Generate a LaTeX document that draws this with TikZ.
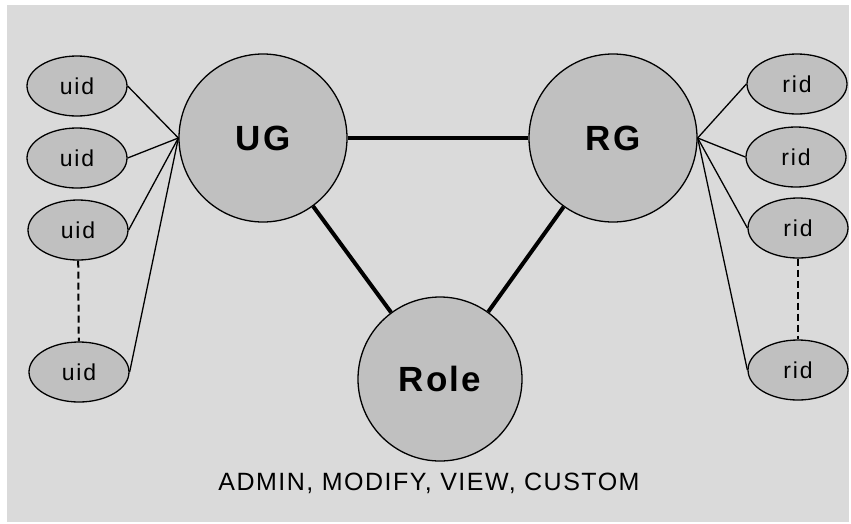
\documentclass[tikz,border=0pt]{standalone}
\usepackage{fontspec}
\setmainfont{Liberation Sans}
\newfontfamily\spacedfont[LetterSpace=6]{Liberation Sans}
\newfontfamily\widefont[LetterSpace=8]{Liberation Sans}
\usetikzlibrary{shapes.geometric}
\definecolor{bggray}{RGB}{218,218,218}
\definecolor{nodegray}{RGB}{192,192,192}

\begin{document}
\begin{tikzpicture}[x=1pt,y=-1pt,
bignode/.style={circle, draw=black, fill=nodegray, line width=1.3pt, minimum size=168pt, inner sep=0pt, font=\spacedfont\fontsize{35}{35}\selectfont\bfseries},
idnode/.style={ellipse, draw=black, fill=nodegray, line width=1.3pt, minimum width=100pt, minimum height=60pt, inner sep=0pt, font=\widefont\fontsize{23}{23}\selectfont},
thin/.style={line width=1.3pt},
heavy/.style={line width=4pt},
gap/.style={line width=2pt, dash pattern=on 7pt off 4pt}
]
    \useasboundingbox (0,0) rectangle (851,523);
    \fill[bggray] (7,5) rectangle (849,522);

    \node [bignode] (ug) at (263,138) {UG};
    \node [bignode] (rg) at (613,138) {RG};
    \node [bignode,minimum size=164pt] (role) at (440,379) {Role};
    \node [font=\spacedfont\fontsize{25}{25}\selectfont] (perm) at (429,483) {ADMIN, MODIFY, VIEW, CUSTOM};

    \node [idnode] (u1) at (77,86)  {uid};
    \node [idnode] (u2) at (77,158) {uid};
    \node [idnode] (u3) at (78,230) {uid};
    \node [idnode] (u4) at (79,372) {uid};

    \node [idnode] (r1) at (797,84)  {rid};
    \node [idnode] (r2) at (796,157) {rid};
    \node [idnode] (r3) at (798,228) {rid};
    \node [idnode] (r4) at (798,370) {rid};

    \draw [heavy] (ug) -- (rg);
    \draw [heavy] (ug) -- (role);
    \draw [heavy] (rg) -- (role);

    \draw [thin] (u1.east) -- (ug.west);
    \draw [thin] (u2.east) -- (ug.west);
    \draw [thin] (u3.east) -- (ug.west);
    \draw [thin] (u4.east) -- (ug.west);
    \draw [gap] (u3) -- (u4);

    \draw [thin] (r1.west) -- (rg.east);
    \draw [thin] (r2.west) -- (rg.east);
    \draw [thin] (r3.west) -- (rg.east);
    \draw [thin] (r4.west) -- (rg.east);
    \draw [gap] (r3) -- (r4);
\end{tikzpicture}
\end{document}
